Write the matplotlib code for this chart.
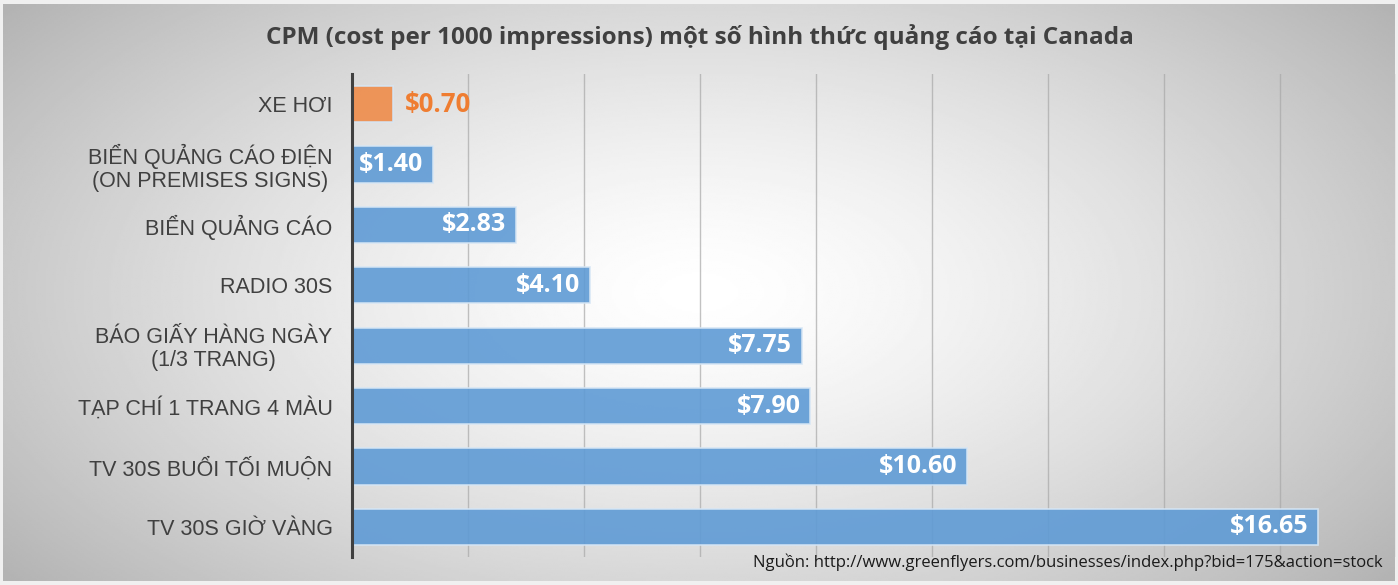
import numpy as np
import matplotlib
matplotlib.use("Agg")
import matplotlib.pyplot as plt

categories = ["XE HƠI", "BIỂN QUẢNG CÁO ĐIỆN\n(ON PREMISES SIGNS)", "BIỂN QUẢNG CÁO",
              "RADIO 30S", "BÁO GIẤY HÀNG NGÀY\n(1/3 TRANG)", "TẠP CHÍ 1 TRANG 4 MÀU",
              "TV 30S BUỔI TỐI MUỘN", "TV 30S GIỜ VÀNG"]
values = [0.70, 1.40, 2.83, 4.10, 7.75, 7.90, 10.60, 16.65]
value_labels = ["$0.70", "$1.40", "$2.83", "$4.10", "$7.75", "$7.90", "$10.60", "$16.65"]
highlight = [True, False, False, False, False, False, False, False]
x_ticks = [0, 2, 4, 6, 8, 10, 12, 14, 16, 18]
title = "CPM (cost per 1000 impressions) một số hình thức quảng cáo tại Canada"
source = "Nguồn: http://www.greenflyers.com/businesses/index.php?bid=175&action=stock"

W, H, DPI = 1398, 585, 100
fig = plt.figure(figsize=(W / DPI, H / DPI), dpi=DPI, facecolor="#f0f0f0")

# radial gradient background
bg = fig.add_axes([3 / W, 4 / H, 1 - 6 / W, 1 - 8 / H])
yy, xx = np.mgrid[-1:1:300j, -1:1:700j]
r = np.sqrt(xx ** 2 + (yy * 0.8) ** 2) / np.sqrt(1.64)
shade = 1.0 - 0.30 * np.clip(r, 0, 1) ** 1.4
bg.imshow(shade, cmap="gray", vmin=0, vmax=1, aspect="auto", extent=[0, 1, 0, 1])
bg.set_axis_off()

left, right, top, bottom = 352, 1396, 74, 557
ax = fig.add_axes([left / W, 1 - bottom / H, (right - left) / W, (bottom - top) / H])
ax.patch.set_alpha(0)

n = len(categories)
ypos = np.arange(n)
colors = ["#ef8c4a" if h else "#5f9bd5" for h in highlight]
ax.barh(ypos, values, height=0.6, color=colors, alpha=0.9, edgecolor="#d6e6f5",
        linewidth=1.2, zorder=3)
ax.set_ylim(n - 0.5, -0.5)
ax.set_xlim(x_ticks[0], x_ticks[-1])
ax.set_xticks(x_ticks)
ax.xaxis.grid(True, color="#a8a8a8", linewidth=1.0, alpha=0.7, zorder=1)
ax.set_axisbelow(True)
ax.tick_params(axis="x", length=0, labelbottom=False)
ax.tick_params(axis="y", length=0, pad=14)
ax.set_yticks(ypos)
ax.set_yticklabels(categories, fontsize=15.5, color="#404040",
                   family=["Liberation Sans", "DejaVu Sans"], linespacing=1.12)
for t in ax.get_yticklabels():
    t.set_horizontalalignment("right")
    t.set_multialignment("center")
for s in ["top", "right", "bottom"]:
    ax.spines[s].set_visible(False)
ax.spines["left"].set_color("#404040")
ax.spines["left"].set_linewidth(2.2)
ax.spines["left"].set_zorder(4)

for i, (v, lab, h) in enumerate(zip(values, value_labels, highlight)):
    if h:
        ax.annotate(lab, (v, i), xytext=(9, 0), textcoords="offset points",
                    ha="left", va="center", fontsize=18.5, fontweight="bold",
                    color="#ef7d31", family="Open Sans", zorder=5)
    else:
        ax.annotate(lab, (v, i), xytext=(-7, 0), textcoords="offset points",
                    ha="right", va="center", fontsize=18, fontweight="bold",
                    color="white", family="Open Sans", zorder=5)

fig.text(700 / W, 1 - 37 / H, title, ha="center", va="center", fontsize=17.5,
         fontweight="bold", color="#404040", family="Open Sans")
fig.text(1383 / W, 1 - 562 / H, source, ha="right", va="center", fontsize=12,
         color="#1a1a1a", family="Open Sans")

fig.savefig("out.png", dpi=DPI, facecolor=fig.get_facecolor())
